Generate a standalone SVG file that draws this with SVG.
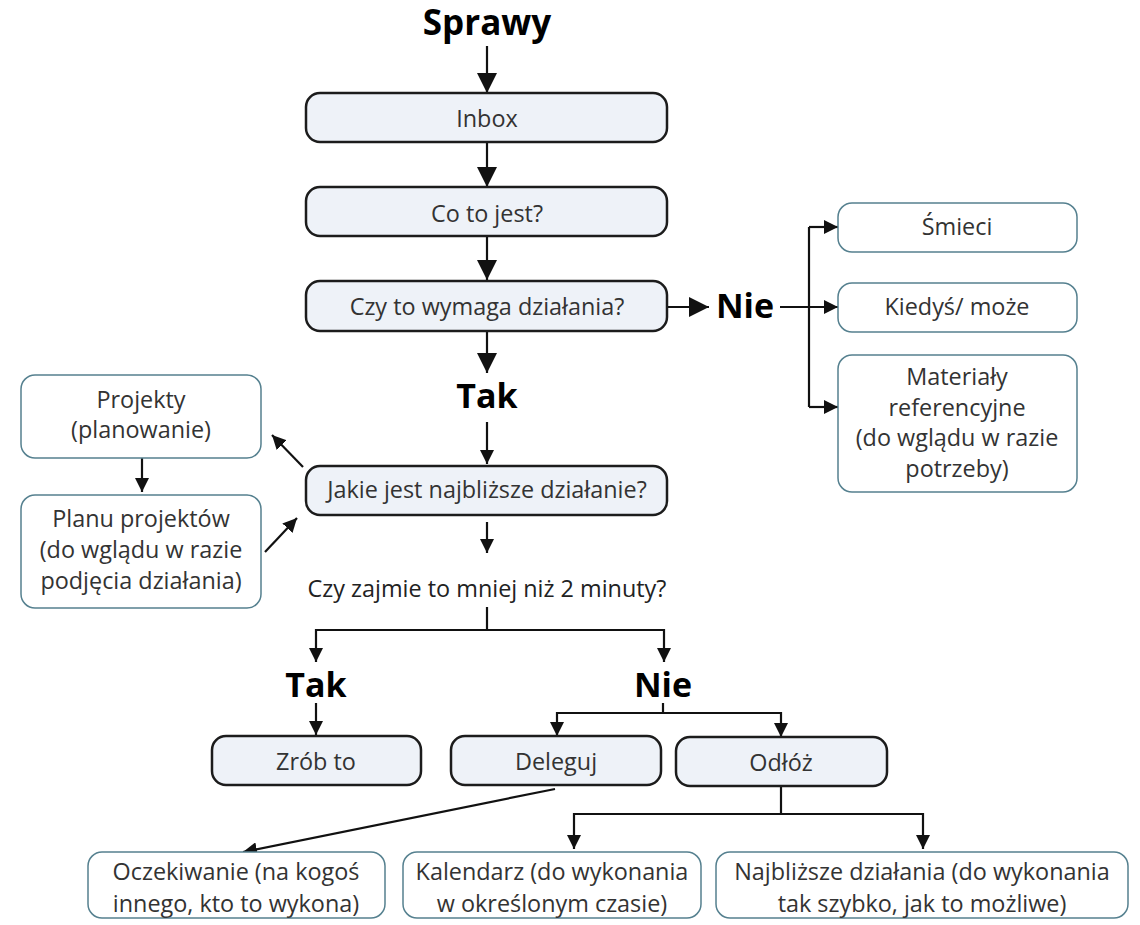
<svg xmlns="http://www.w3.org/2000/svg" width="1140" height="925" viewBox="0 0 1140 925">
<defs>
<style>
.main rect{fill:#eef2f8;stroke:#1c1c1c;stroke-width:2.5}
.side rect{fill:#ffffff;stroke:#55808f;stroke-width:1.5}
text{font-family:"Open Sans","Noto Sans","Liberation Sans",sans-serif;fill:#333;font-size:23.4px;text-anchor:middle}
text.big{font-weight:bold;fill:#000;font-size:34px}
#conn path{fill:none;stroke:#111;stroke-width:2.2}
</style>
<marker id="ab" markerWidth="20" markerHeight="20" refX="20" refY="10" orient="auto" markerUnits="userSpaceOnUse"><path d="M0,0 L20,10 L0,20 z" fill="#111"/></marker>
<marker id="as" markerWidth="14" markerHeight="14" refX="14" refY="7" orient="auto" markerUnits="userSpaceOnUse"><path d="M0,0 L14,7 L0,14 z" fill="#111"/></marker>
</defs>
<rect width="1140" height="925" fill="#fff"/>
<g id="conn">
<path d="M487,46 V93" marker-end="url(#ab)"/>
<path d="M487,143 V187" marker-end="url(#ab)"/>
<path d="M487,237 V280" marker-end="url(#ab)"/>
<path d="M487,331 V373" marker-end="url(#ab)"/>
<path d="M668,307 H709" marker-end="url(#ab)"/>
<path d="M780,307 H838" marker-end="url(#as)"/>
<path d="M809,227 V407"/>
<path d="M809,227 H838" marker-end="url(#as)"/>
<path d="M809,407 H838" marker-end="url(#as)"/>
<path d="M487,422 V464" marker-end="url(#as)"/>
<path d="M303,467 L272,435" marker-end="url(#as)"/>
<path d="M142,458 V492" marker-end="url(#as)"/>
<path d="M265,552 L297,518" marker-end="url(#as)"/>
<path d="M487,522 V553" marker-end="url(#as)"/>
<path d="M487,607 V630"/>
<path d="M487,630 H316 V662" marker-end="url(#as)"/>
<path d="M487,630 H664 V662" marker-end="url(#as)"/>
<path d="M316,703 V735" marker-end="url(#as)"/>
<path d="M663,703 V713"/>
<path d="M663,713 H557 V736" marker-end="url(#as)"/>
<path d="M663,713 H781 V737" marker-end="url(#as)"/>
<path d="M555,789 L243,852" marker-end="url(#as)"/>
<path d="M781,786 V814"/>
<path d="M781,814 H574 V849" marker-end="url(#as)"/>
<path d="M781,814 H923 V849" marker-end="url(#as)"/>
</g>
<g id="sprawy"><text class="big" x="487" y="35" style="font-size:35px">Sprawy</text></g>
<g id="inbox" class="main"><rect x="306" y="93" width="361" height="49" rx="14"/><text x="487" y="127">Inbox</text></g>
<g id="cotojest" class="main"><rect x="306" y="187" width="361" height="49" rx="14"/><text x="487" y="222">Co to jest?</text></g>
<g id="czywymaga" class="main"><rect x="306" y="281" width="361" height="50" rx="14"/><text x="487" y="315">Czy to wymaga działania?</text></g>
<g id="nie1"><text class="big" x="745" y="318">Nie</text></g>
<g id="smieci" class="side"><rect x="838" y="203" width="239" height="49" rx="14"/><text x="957" y="235">Śmieci</text></g>
<g id="kiedys" class="side"><rect x="838" y="283" width="239" height="49" rx="14"/><text x="957" y="315">Kiedyś/ może</text></g>
<g id="materialy" class="side"><rect x="838" y="355" width="239" height="137" rx="14"/><text x="957" y="385">Materiały</text><text x="957" y="416">referencyjne</text><text x="957" y="446">(do wglądu w razie</text><text x="957" y="477">potrzeby)</text></g>
<g id="tak1"><text class="big" x="487" y="408">Tak</text></g>
<g id="jakie" class="main"><rect x="306" y="466" width="361" height="49" rx="14"/><text x="487" y="498">Jakie jest najbliższe działanie?</text></g>
<g id="projekty" class="side"><rect x="21" y="375" width="240" height="83" rx="14"/><text x="141" y="408">Projekty</text><text x="141" y="438">(planowanie)</text></g>
<g id="planu" class="side"><rect x="21" y="495" width="240" height="113" rx="14"/><text x="141" y="527">Planu projektów</text><text x="141" y="558">(do wglądu w razie</text><text x="141" y="589">podjęcia działania)</text></g>
<g id="czyzajmie"><text x="487" y="597" style="fill:#222">Czy zajmie to mniej niż 2 minuty?</text></g>
<g id="tak2"><text class="big" x="316" y="697">Tak</text></g>
<g id="nie2"><text class="big" x="663" y="697">Nie</text></g>
<g id="zrob" class="main"><rect x="212" y="736" width="209" height="49" rx="14"/><text x="316" y="770">Zrób to</text></g>
<g id="deleguj" class="main"><rect x="451" y="736" width="210" height="49" rx="14"/><text x="556" y="770">Deleguj</text></g>
<g id="odloz" class="main"><rect x="676" y="737" width="211" height="49" rx="14"/><text x="781" y="771">Odłóż</text></g>
<g id="oczekiwanie" class="side"><rect x="88" y="852" width="297" height="66" rx="14"/><text x="236" y="880">Oczekiwanie (na kogoś</text><text x="236" y="912">innego, kto to wykona)</text></g>
<g id="kalendarz" class="side"><rect x="403" y="852" width="298" height="66" rx="14"/><text x="552" y="880">Kalendarz (do wykonania</text><text x="552" y="912">w określonym czasie)</text></g>
<g id="najblizsze" class="side"><rect x="716" y="852" width="412" height="66" rx="14"/><text x="922" y="880">Najbliższe działania (do wykonania</text><text x="922" y="912">tak szybko, jak to możliwe)</text></g>
</svg>
